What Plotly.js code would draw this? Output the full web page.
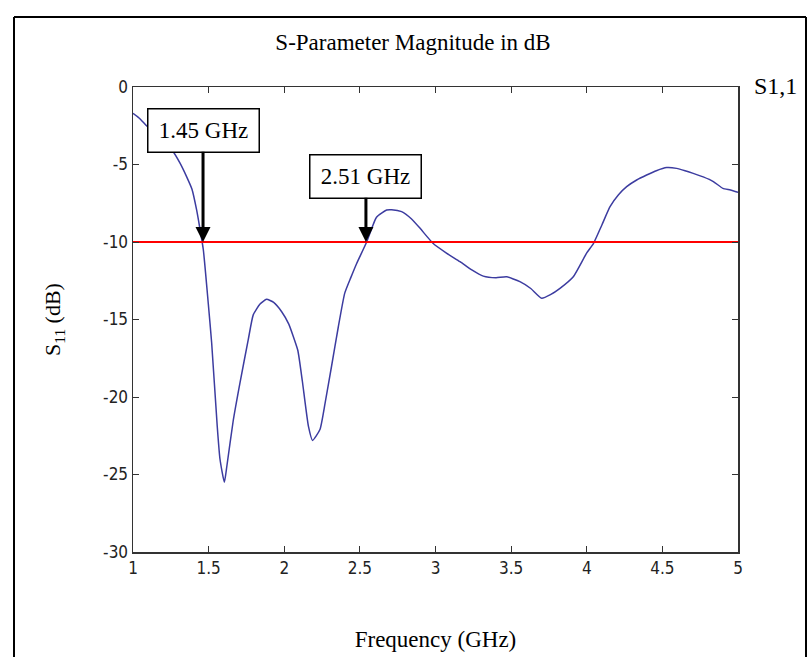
<!DOCTYPE html>
<html>
<head>
<meta charset="utf-8">
<script src="https://cdn.plot.ly/plotly-3.0.1.min.js"></script>
<style>html,body{margin:0;padding:0;background:#fff;}#chart{width:809px;height:657px;}</style>
</head>
<body>
<div id="chart"></div>
<script>
// S11 curve
const freqGHz = [1.00,1.04,1.08,1.14,1.20,1.26,1.31,1.355,1.39,1.42,1.44,1.465,1.498,1.52,1.557,1.575,1.604,1.62,1.663,1.707,1.762,1.795,1.84,1.883,1.93,1.983,2.03,2.06,2.09,2.12,2.16,2.187,2.236,2.27,2.313,2.357,2.40,2.44,2.478,2.545,2.61,2.677,2.71,2.776,2.84,2.898,2.985,3.07,3.162,3.24,3.316,3.40,3.47,3.558,3.63,3.702,3.76,3.823,3.911,4.0,4.044,4.10,4.154,4.21,4.264,4.33,4.396,4.46,4.528,4.594,4.65,4.704,4.77,4.837,4.9,4.95,5.0];
const s11dB   = [-1.7,-2.0,-2.4,-3.0,-3.5,-4.1,-4.9,-5.8,-6.6,-7.9,-9.0,-10.5,-14.0,-16.5,-21.9,-24.0,-25.5,-24.5,-21.5,-19.1,-16.3,-14.7,-14.0,-13.7,-13.9,-14.5,-15.3,-16.1,-17.0,-19.0,-21.9,-22.8,-22.1,-20.4,-18.0,-15.5,-13.3,-12.3,-11.4,-10.0,-8.4,-7.94,-7.92,-8.04,-8.5,-9.12,-10.1,-10.7,-11.27,-11.8,-12.2,-12.3,-12.24,-12.56,-13.0,-13.63,-13.4,-12.99,-12.24,-10.7,-10.1,-8.9,-7.72,-6.95,-6.43,-6.0,-5.68,-5.4,-5.2,-5.25,-5.4,-5.57,-5.8,-6.1,-6.54,-6.65,-6.8];
const refX = [1, 5];
const refY = [-10, -10];
const markerFreqs = [1.463, 2.54];
const markerLabels = ['1.45 GHz', '2.51 GHz'];
const xTicks = [1,1.5,2,2.5,3,3.5,4,4.5,5];
const xTickText = ['1','1.5','2','2.5','3','3.5','4','4.5','5'];
const yTicks = [0,-5,-10,-15,-20,-25,-30];
const yTickText = ['0','-5','-10','-15','-20','-25','-30'];

const serif = 'Liberation Serif, Times New Roman, serif';
const narrow = 'Liberation Sans Narrow, DejaVu Sans Condensed, Arial, sans-serif';

const traces = [
  {x: freqGHz, y: s11dB, type:'scatter', mode:'lines', line:{color:'#3c3ca0', width:1.5, shape:'spline', smoothing:0.5}, showlegend:false, hoverinfo:'x+y'},
  {x: refX, y: refY, type:'scatter', mode:'lines', line:{color:'#ff0000', width:2}, showlegend:false}
];

const arrowOffsets = [-112, -66];
const annotations = markerFreqs.map((f,i)=>({
  x: f, y: -10, xref:'x', yref:'y', text: markerLabels[i],
  showarrow:true, arrowhead:2, arrowsize:1, arrowwidth:3, arrowcolor:'#000',
  ax:0, ay: arrowOffsets[i], standoff:0,
  bgcolor:'#fff', bordercolor:'#000', borderwidth:1.5, borderpad:10,
  width:90, height:22,
  font:{family:serif, size:23, color:'#000'}
}));
annotations.push({
  x:(775-133)/605, y:(552-86)/465, xref:'paper', yref:'paper', xanchor:'center', yanchor:'middle', showarrow:false,
  text:'S1,1', font:{family:serif, size:24, color:'#000'}
});

const layout = {
  width:809, height:657,
  margin:{l:133, r:71, t:87, b:105},
  paper_bgcolor:'#fff', plot_bgcolor:'#fff',
  title:{text:'S-Parameter Magnitude in dB', font:{family:serif, size:23, color:'#000'},
         x:413/809, xanchor:'center', xref:'container', y:1-42/657, yanchor:'middle', yref:'container'},
  xaxis:{range:[1,5], tickvals:xTicks, ticktext:xTickText, showgrid:false, zeroline:false,
         showline:true, linecolor:'#333', linewidth:1.5, mirror:'ticks', ticks:'inside', ticklen:6, tickcolor:'#333',
         tickfont:{family:narrow, size:17, color:'#222'},
         title:{text:'Frequency (GHz)', font:{family:serif, size:23, color:'#000'}, standoff:54}},
  yaxis:{range:[-30,0], tickvals:yTicks, ticktext:yTickText, showgrid:false, zeroline:false,
         showline:true, linecolor:'#333', linewidth:1.5, mirror:'ticks', ticks:'inside', ticklen:6, tickcolor:'#333',
         tickfont:{family:narrow, size:17, color:'#222'},
         title:{text:'S<sub>11</sub> (dB)', font:{family:serif, size:22, color:'#000'}, standoff:36}},
  annotations: annotations,
  shapes:[
    {type:'line', xref:'paper', yref:'paper', x0:(14-133)/605, x1:(14-133)/605, y0:(552-17)/465, y1:-0.3, line:{color:'#000', width:2}},
    {type:'line', xref:'paper', yref:'paper', x0:(806-133)/605, x1:(806-133)/605, y0:(552-17)/465, y1:-0.3, line:{color:'#000', width:2}},
    {type:'line', xref:'paper', yref:'paper', x0:(14-133)/605, x1:(806-133)/605, y0:(552-17)/465, y1:(552-17)/465, line:{color:'#000', width:2}}
  ]
};

Plotly.newPlot('chart', traces, layout, {displayModeBar:false, staticPlot:true});
</script>
</body>
</html>
